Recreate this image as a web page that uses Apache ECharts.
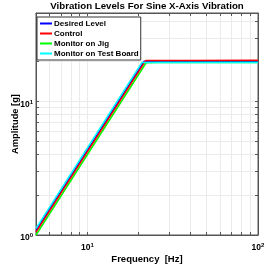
<!DOCTYPE html>
<html><head><meta charset="utf-8">
<script src="https://cdn.jsdelivr.net/npm/echarts@6/dist/echarts.min.js"></script>
<style>html,body{margin:0;padding:0;background:#fff}#c{width:266px;height:266px}</style>
</head><body><div id="c"></div>
<script>
const titleText = 'Vibration Levels For Sine X-Axis Vibration';
const xName = 'Frequency  [Hz]';
const yName = 'Amplitude [g]';
const seriesNames = ['Desired Level', 'Control', 'Monitor on Jig', 'Monitor on Test Board'];
const seriesColors = ['#0000ff', '#ff0000', '#00ff00', '#00ffff'];
// frequency (Hz) / amplitude (g) per series
const desiredFreq = [5, 21.5, 100];
const desiredAmp = [1.08, 20, 20];
const controlFreq = [5, 22.0, 40, 100];
const controlAmp = [1.05, 20.3, 20.3, 20.4];
const jigFreq = [5, 22.1, 26, 100];
const jigAmp = [1.0, 19.5, 19.6, 19.6];
const boardFreq = [5, 20.9, 100];
const boardAmp = [1.12, 19.6, 19.6];
const xTickValues = [6, 7, 8, 9, 10, 20, 30, 40, 50, 60, 70, 80, 90, 100];
const xLabelValues = [10, 100];
const yTickValues = [2, 3, 4, 5, 6, 7, 8, 9, 10, 20, 30, 40];
const yLabelValues = [1, 10];
const xMin = 5, xMax = 100, yMin = 1, yMax = 46;

const pairs = (f, a) => f.map((v, i) => [v, a[i]]);
const seriesData = [pairs(desiredFreq, desiredAmp), pairs(controlFreq, controlAmp), pairs(jigFreq, jigAmp), pairs(boardFreq, boardAmp)];

const FF = 'Liberation Sans';
const fmtPow = v => {
  const e = Math.round(Math.log10(v));
  return '{b|10}{s|' + e + '}';
};
const richLbl = {
  b: {fontSize: 8.5, fontWeight: 'bold', color: '#000', fontFamily: FF},
  s: {fontSize: 6, fontWeight: 'bold', color: '#000', fontFamily: FF, verticalAlign: 'top', padding: [0, 0, 5, 0]}
};
const gridLine = {show: true, lineStyle: {color: '#ebebeb', width: 1}};
function xAx(pos, showLabel) {
  return {
    type: 'log', position: pos, min: xMin, max: xMax, logBase: 10,
    name: showLabel ? xName : '', nameLocation: 'middle', nameGap: 19, nameMoveOverlap: false,
    nameTextStyle: {fontSize: 9.5, fontWeight: 'bold', color: '#000', fontFamily: FF},
    axisLine: {show: true, lineStyle: {color: '#555', width: 1}},
    axisTick: {show: true, inside: true, length: 3, customValues: xTickValues, lineStyle: {color: '#555'}},
    axisLabel: {show: showLabel, customValues: xLabelValues, formatter: fmtPow, rich: richLbl, margin: 7},
    splitLine: showLabel ? gridLine : {show: false},
    minorTick: {show: false}
  };
}
function yAx(pos, showLabel) {
  return {
    type: 'log', position: pos, min: yMin, max: yMax, logBase: 10,
    name: showLabel ? yName : '', nameLocation: 'middle', nameGap: 16, nameRotate: 90, nameMoveOverlap: false,
    nameTextStyle: {fontSize: 9.3, fontWeight: 'bold', color: '#000', fontFamily: FF},
    axisLine: {show: true, lineStyle: {color: '#555', width: 1}},
    axisTick: {show: true, inside: true, length: 3, customValues: yTickValues, lineStyle: {color: '#555'}},
    axisLabel: {show: showLabel, customValues: yLabelValues, formatter: fmtPow, rich: richLbl, margin: 3, padding: [6, 0, 0, 0]},
    splitLine: showLabel ? gridLine : {show: false}
  };
}
const chart = echarts.init(document.getElementById('c'), null, {renderer: 'canvas'});
chart.setOption({
  animation: false,
  backgroundColor: '#fff',
  title: {text: titleText, left: 147, textAlign: 'center', top: 0, padding: 0,
    textStyle: {fontSize: 9.7, fontWeight: 'bold', color: '#000', fontFamily: FF, lineHeight: 12}},
  grid: {left: 36, right: 8, top: 13, bottom: 31, outerBoundsMode: 'none', containLabel: false,
    show: true, borderColor: '#555', borderWidth: 1, backgroundColor: 'transparent'},
  legend: {
    orient: 'vertical', left: 37, top: 17, itemWidth: 12, itemHeight: 2, itemGap: 1,
    padding: [2, 2, 2, 3], borderColor: '#333', borderWidth: 1, backgroundColor: '#fff',
    icon: 'rect',
    textStyle: {fontSize: 8, fontWeight: 'bold', color: '#000', fontFamily: FF, lineHeight: 9, padding: [0, 0, 0, -3]},
    data: seriesNames
  },
  xAxis: [xAx('bottom', true), xAx('top', false)],
  yAxis: [yAx('left', true), yAx('right', false)],
  series: seriesNames.map((n, i) => ({
    name: n, type: 'line', data: seriesData[i], showSymbol: false, symbol: 'none',
    lineStyle: {color: seriesColors[i], width: 1.5}, itemStyle: {color: seriesColors[i]},
    xAxisIndex: 0, yAxisIndex: 0, z: i === 1 ? 5 : 2 + i
  }))
});
</script></body></html>
